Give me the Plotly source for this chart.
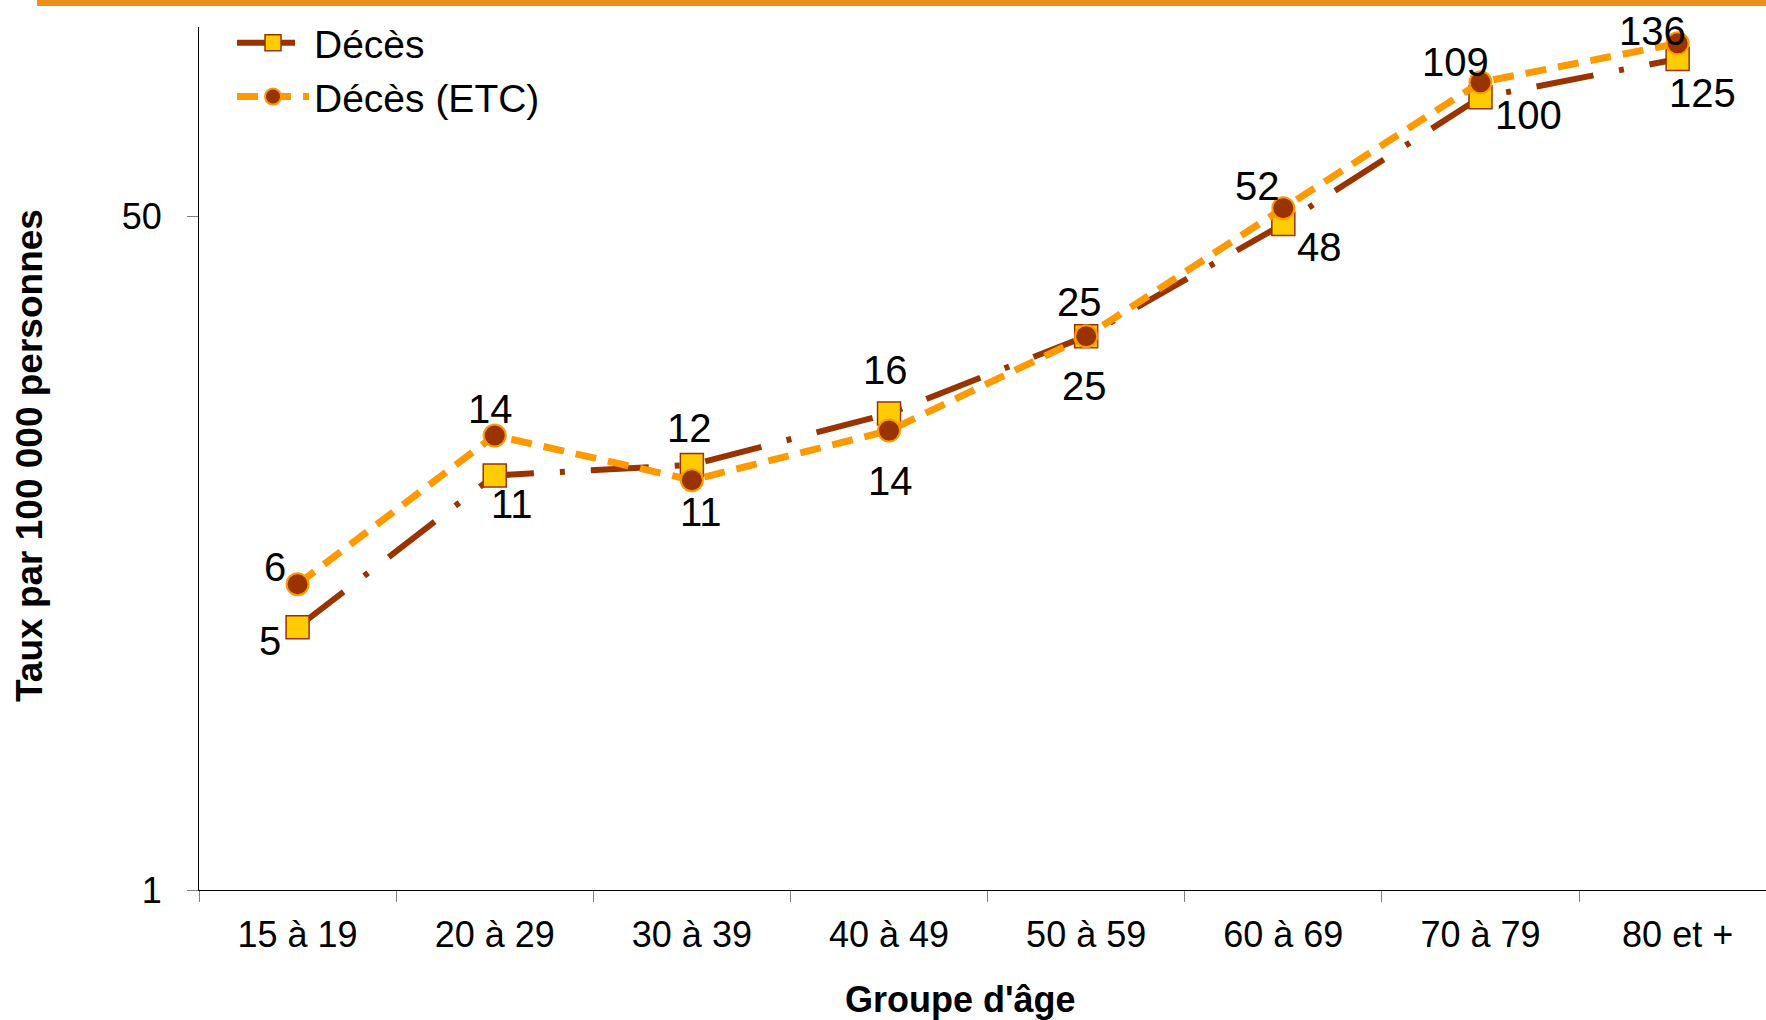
import numpy as np
import plotly.graph_objects as go

# ---------------- data ----------------
categories = ["15 à 19", "20 à 29", "30 à 39", "40 à 49",
              "50 à 59", "60 à 69", "70 à 79", "80 et +"]
deces = [4.6, 11.1, 11.8, 15.9, 24.9, 47.8, 99.7, 124.6]
deces_etc = [5.9, 14.0, 10.8, 14.4, 24.9, 52.4, 108.8, 136.4]
y_tick_values = [1, 50]
y_tick_labels = ["1", "50"]

# label placement (pixel offsets, +dy = downward)
deces_label_dx = [-28, 17, -2, -4, -2, 36, 48, 25]
deces_label_dy = [14, 29, -37, -44, 50, 23, 18, 34]
etc_label_dx = [-23, -4, 9, 1, -7, -26, -25, -25]
etc_label_dy = [-17, -26, 32, 50, -34, -22, -20, -12]

FONT = "Liberation Sans, Arial, sans-serif"
BROWN = "#993300"
ORANGE = "#FF9900"
YELLOW = "#FFCC00"

W, H = 1766, 1020
ML, MR, MT, MB = 199, 0, 27, 130
PW, PH = W - ML - MR, H - MT - MB

fig = go.Figure()
fig.add_trace(go.Scatter(
    x=categories, y=deces, name="Décès", mode="lines+markers",
    line=dict(color=BROWN, width=6, dash="58px,26px,5px,26px"),
    marker=dict(symbol="square", size=23, color=YELLOW,
                line=dict(color=BROWN, width=1.5)),
))
fig.add_trace(go.Scatter(
    x=categories, y=deces_etc, name="Décès (ETC)", mode="lines+markers",
    line=dict(color=ORANGE, width=7, dash="21px,12px"),
    marker=dict(symbol="circle", size=22, color=BROWN,
                line=dict(color=ORANGE, width=2)),
))

annotations = []
for vals, dxs, dys in ((deces, deces_label_dx, deces_label_dy),
                       (deces_etc, etc_label_dx, etc_label_dy)):
    for c, v, dx, dy in zip(categories, vals, dxs, dys):
        annotations.append(dict(
            x=c, y=np.log10(v), xref="x", yref="y",
            text=f"{round(v):d}", showarrow=False,
            xanchor="center", yanchor="middle",
            xshift=dx, yshift=-dy,
            font=dict(family=FONT, size=40, color="black"),
        ))

# axis titles
annotations.append(dict(
    text="<b>Groupe d'âge</b>", xref="paper", yref="paper",
    x=(960 - ML) / PW, y=(H - MB - 1000) / PH,
    xanchor="center", yanchor="middle", showarrow=False,
    font=dict(family=FONT, size=36, color="black"),
))
annotations.append(dict(
    text="<b>Taux par 100 000 personnes</b>", xref="paper", yref="paper",
    x=(30 - ML) / PW, y=(H - MB - 456) / PH, textangle=-90,
    xanchor="center", yanchor="middle", showarrow=False,
    font=dict(family=FONT, size=37, color="black"),
))

fig.update_layout(
    width=W, height=H, autosize=False,
    margin=dict(l=ML, r=MR, t=MT, b=MB, pad=0),
    paper_bgcolor="white", plot_bgcolor="white",
    font=dict(family=FONT, color="black"),
    showlegend=True,
    legend=dict(
        x=(232 - ML) / PW, y=(H - MB - 11) / PH,
        xanchor="left", yanchor="top",
        bgcolor="rgba(0,0,0,0)", borderwidth=0,
        font=dict(family=FONT, size=39, color="black"),
        itemwidth=72, tracegroupgap=0,
    ),
    annotations=annotations,
    shapes=[dict(
        type="rect", xref="paper", yref="paper",
        x0=(37 - ML) / PW, x1=1.01,
        y0=(H - MB - 6) / PH, y1=(H - MB + 2) / PH,
        fillcolor="#EC8F1B", line=dict(width=0), layer="above",
    )],
)

fig.update_xaxes(
    type="category", range=[-0.5, -0.5 + PW / 197.15],
    tickson="boundaries", ticks="outside", ticklen=11,
    tickcolor="#808080", tickwidth=1,
    showline=True, linecolor="black", linewidth=1,
    showgrid=False, zeroline=False,
    tickfont=dict(family=FONT, size=36, color="black"),
    ticklabelstandoff=13,
)
fig.update_yaxes(
    type="log", range=[0, np.log10(150)],
    tickmode="array", tickvals=y_tick_values, ticktext=y_tick_labels,
    ticks="outside", ticklen=11, tickcolor="#808080", tickwidth=1,
    showline=True, linecolor="black", linewidth=1,
    showgrid=False, zeroline=False,
    tickfont=dict(family=FONT, size=36, color="black"),
    ticklabelstandoff=18,
)

fig.write_html("out.html", config={"displayModeBar": False},
               post_script="document.body.style.margin='0';")
